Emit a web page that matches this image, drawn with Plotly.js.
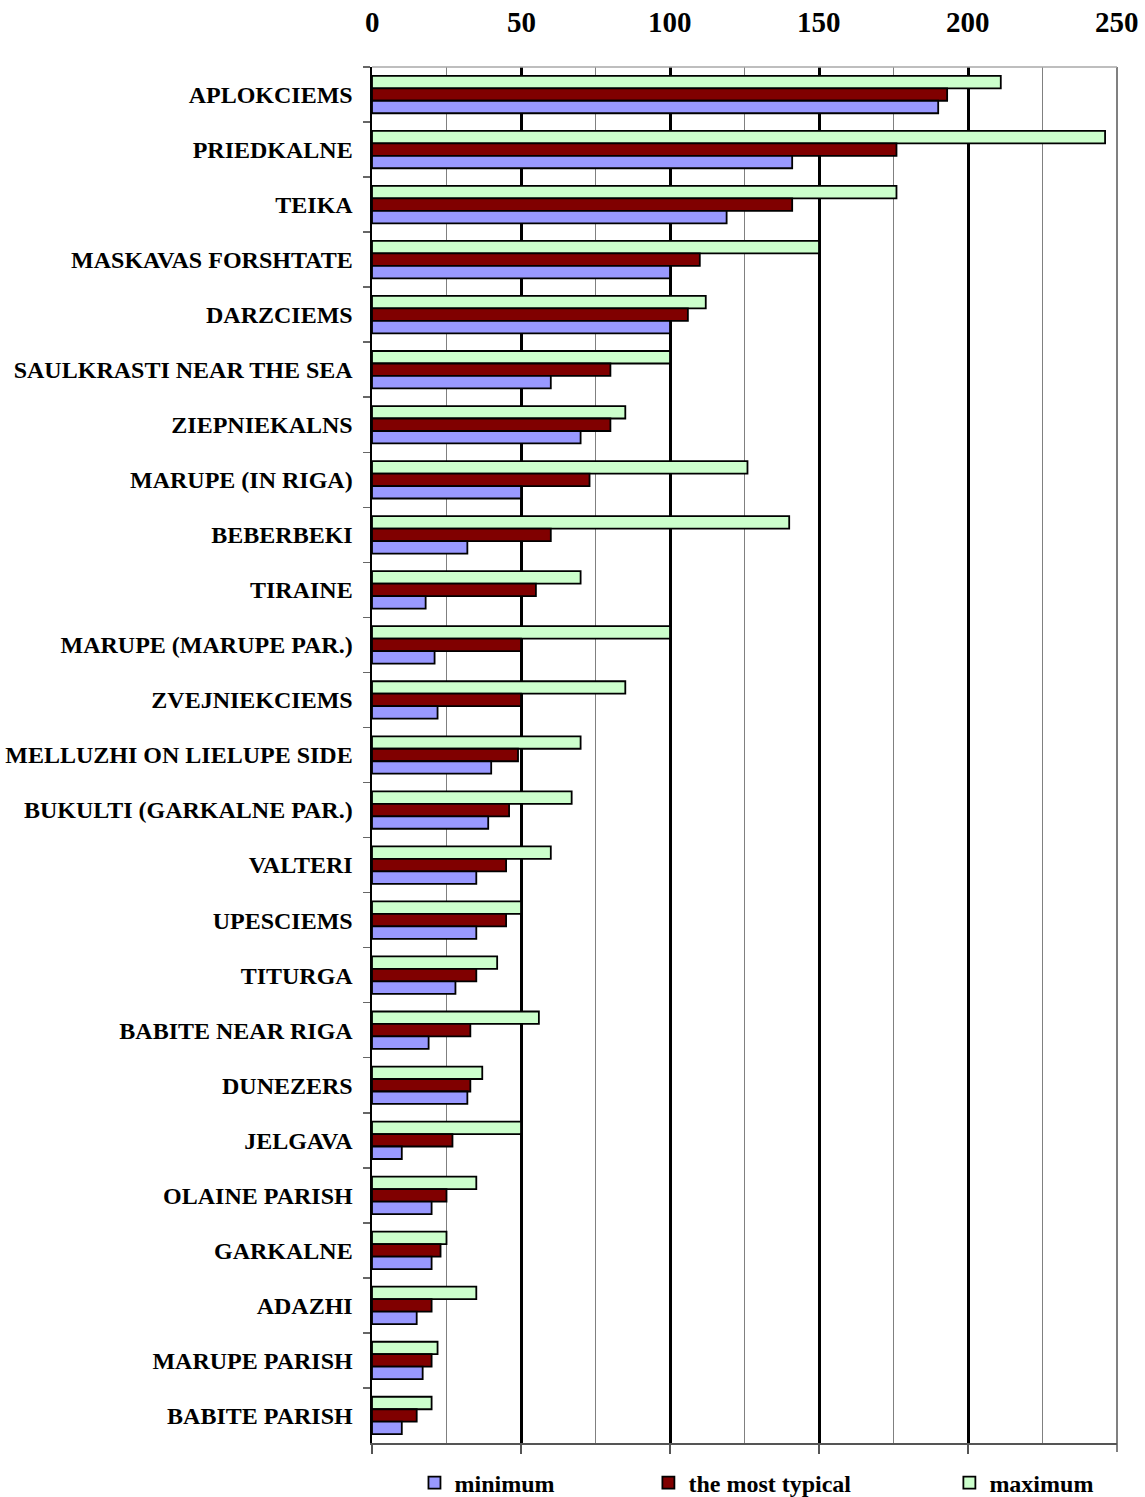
<!DOCTYPE html>
<html>
<head>
<meta charset="utf-8">
<script src="https://cdn.plot.ly/plotly-3.0.1.min.js"></script>
<style>html,body{margin:0;padding:0;background:#fff;}#chart{width:1145px;height:1497px;}</style>
</head>
<body>
<div id="chart"></div>
<script>
const categories = [
  "APLOKCIEMS", "PRIEDKALNE", "TEIKA", "MASKAVAS FORSHTATE", "DARZCIEMS",
  "SAULKRASTI NEAR THE SEA", "ZIEPNIEKALNS", "MARUPE (IN RIGA)", "BEBERBEKI", "TIRAINE",
  "MARUPE (MARUPE PAR.)", "ZVEJNIEKCIEMS", "MELLUZHI ON LIELUPE SIDE", "BUKULTI (GARKALNE PAR.)", "VALTERI",
  "UPESCIEMS", "TITURGA", "BABITE NEAR RIGA", "DUNEZERS", "JELGAVA",
  "OLAINE PARISH", "GARKALNE", "ADAZHI", "MARUPE PARISH", "BABITE PARISH"
];
const minimumValues = [190, 141, 119, 100, 100, 60, 70, 50, 32, 18, 21, 22, 40, 39, 35, 35, 28, 19, 32, 10, 20, 20, 15, 17, 10];
const typicalValues = [193, 176, 141, 110, 106, 80, 80, 73, 60, 55, 50, 50, 49, 46, 45, 45, 35, 33, 33, 27, 25, 23, 20, 20, 15];
const maximumValues = [211, 246, 176, 150, 112, 100, 85, 126, 140, 70, 100, 85, 70, 67, 60, 50, 42, 56, 37, 50, 35, 25, 35, 22, 20];
const seriesNames = ["minimum", "the most typical", "maximum"];
const xTickValues = [0, 50, 100, 150, 200, 250];
const xTickLabels = ["0", "50", "100", "150", "200", "250"];

const serif = "Liberation Serif, Times New Roman, serif";
const outline = {color: "#000000", width: 1.8};

const traces = [
  {type: "bar", orientation: "h", name: seriesNames[2], x: maximumValues, y: categories,
   marker: {color: "#CCFFCC", line: outline}, legend: "legend3"},
  {type: "bar", orientation: "h", name: seriesNames[1], x: typicalValues, y: categories,
   marker: {color: "#800000", line: outline}, legend: "legend2"},
  {type: "bar", orientation: "h", name: seriesNames[0], x: minimumValues, y: categories,
   marker: {color: "#9999FF", line: outline}, legend: "legend"}
];

const legendFont = {family: serif, size: 24, color: "#000", weight: "bold"};
const legendBase = {orientation: "h", yanchor: "middle", xanchor: "left", yref: "container",
  y: (1497 - 1483) / 1497, font: legendFont, bgcolor: "rgba(0,0,0,0)", borderwidth: 0};

// top tick labels, placed through the x axis scale
const topLabels = xTickValues.map((v, i) => ({
  x: v, xref: "x", y: 1, yref: "paper", yanchor: "middle", xanchor: "center",
  yshift: 45, showarrow: false, text: xTickLabels[i],
  font: {family: serif, size: 29, color: "#000", weight: "bold"}
}));

const layout = {
  width: 1145, height: 1497,
  margin: {l: 372, r: 28, t: 67, b: 54, pad: 0},
  paper_bgcolor: "#ffffff", plot_bgcolor: "#ffffff",
  barmode: "group", bargap: 0.32, bargroupgap: 0,
  showlegend: true,
  legend: Object.assign({}, legendBase, {x: 0.057}),
  legend2: Object.assign({}, legendBase, {x: 0.371}),
  legend3: Object.assign({}, legendBase, {x: 0.775}),
  annotations: topLabels,
  shapes: [
    {type: "line", xref: "paper", yref: "paper", x0: 0, x1: 1, y0: 1, y1: 1,
     line: {color: "#A8A8A8", width: 1.5}, layer: "above"},
    {type: "line", xref: "paper", yref: "paper", x0: 1, x1: 1, y0: 0, y1: 1,
     line: {color: "#808080", width: 2}, layer: "below"},
    {type: "line", xref: "paper", yref: "paper", ysizemode: "pixel", yanchor: 0,
     x0: 1, x1: 1, y0: 0, y1: -9, line: {color: "#555555", width: 1.5}}
  ],
  xaxis: {
    range: [0, 250], autorange: false, side: "bottom",
    tickmode: "array", tickvals: xTickValues.slice(0, 5),
    ticks: "outside", ticklen: 9, tickwidth: 1.5, tickcolor: "#555555",
    showticklabels: false,
    showgrid: true, gridcolor: "#000000", gridwidth: 3,
    zeroline: false,
    showline: true, linecolor: "#555555", linewidth: 2,
    minor: {tickmode: "array", tickvals: [25, 75, 125, 175, 225], ticks: "",
            showgrid: true, gridcolor: "#808080", gridwidth: 1.5}
  },
  yaxis: {
    type: "category", autorange: "reversed",
    tickson: "boundaries", ticks: "outside", ticklen: 7, tickwidth: 1.5, tickcolor: "#666666",
    showline: true, linecolor: "#000000", linewidth: 2.5,
    showgrid: false, zeroline: false,
    ticklabelstandoff: 12,
    tickfont: {family: serif, size: 24, color: "#000", weight: "bold"}
  }
};

Plotly.newPlot("chart", traces, layout, {displayModeBar: false, staticPlot: true});
</script>
</body>
</html>
